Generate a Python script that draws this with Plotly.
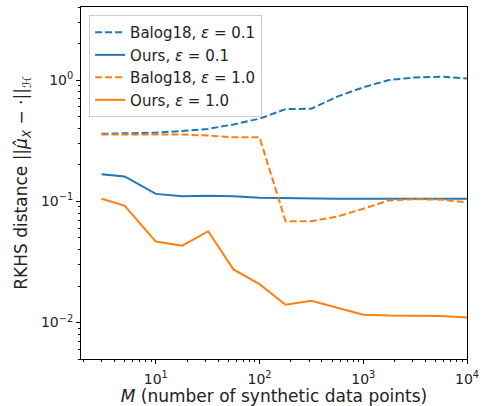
import numpy as np
import plotly.graph_objects as go

M = [3, 5, 10, 18, 32, 56, 100, 178, 316, 562, 1000, 1778, 3162, 5623, 10000]
balog_01 = [0.360, 0.362, 0.368, 0.380, 0.395, 0.430, 0.480, 0.575, 0.580, 0.730, 0.870, 1.000, 1.050, 1.065, 1.030]
ours_01 = [0.167, 0.160, 0.115, 0.110, 0.111, 0.110, 0.107, 0.106, 0.105, 0.105, 0.105, 0.105, 0.105, 0.105, 0.105]
balog_10 = [0.355, 0.355, 0.355, 0.355, 0.348, 0.337, 0.337, 0.0685, 0.0685, 0.0748, 0.0867, 0.1016, 0.104, 0.103, 0.098]
ours_10 = [0.105, 0.092, 0.0465, 0.043, 0.0566, 0.0274, 0.0207, 0.0140, 0.0151, 0.0133, 0.0116, 0.0114, 0.0114, 0.0113, 0.0110]

names = ["Balog18, <i>ε</i> = 0.1", "Ours, <i>ε</i> = 0.1", "Balog18, <i>ε</i> = 1.0", "Ours, <i>ε</i> = 1.0"]
series = [balog_01, ours_01, balog_10, ours_10]
colors = ["#1f77b4", "#1f77b4", "#ff7f0e", "#ff7f0e"]
dashes = ["7px,3px", "solid", "7px,3px", "solid"]

x_major = [10, 100, 1000, 10000]
x_major_text = ["10<sup>1</sup>", "10<sup>2</sup>", "10<sup>3</sup>", "10<sup>4</sup>"]
y_major = [0.01, 0.1, 1]
y_major_text = ["10<sup>−2</sup>", "10<sup>−1</sup>", "10<sup>0</sup>"]

x_minor = [m * 10 ** e for e in range(0, 4) for m in range(2, 10)]
y_minor = [m * 10.0 ** e for e in range(-3, 1) for m in range(2, 10)]

fig = go.Figure()
for n, s, c, d in zip(names, series, colors, dashes):
    fig.add_trace(go.Scatter(x=M, y=s, mode="lines", name=n,
                             line=dict(color=c, width=2, dash=d)))

font = dict(family="DejaVu Sans", size=14, color="#222")
fig.update_layout(
    width=485, height=406,
    margin=dict(l=81, r=18, t=7, b=47, autoexpand=False),
    paper_bgcolor="white", plot_bgcolor="white",
    font=font,
    showlegend=True,
    legend=dict(x=0.021, y=0.977, xanchor="left", yanchor="top",
                bgcolor="rgba(255,255,255,0.9)", bordercolor="#cccccc", borderwidth=1,
                font=dict(family="DejaVu Sans", size=15, color="#222")),
)
fig.update_xaxes(type="log", range=[np.log10(1.9), 4], automargin=False,
                 showgrid=False, zeroline=False,
                 showline=True, linecolor="black", linewidth=1, mirror=True,
                 ticks="outside", ticklen=4, tickcolor="black", ticklabelstandoff=3,
                 tickvals=x_major, ticktext=x_major_text,
                 minor=dict(tickvals=x_minor, ticks="outside", ticklen=2, tickcolor="black", showgrid=False),
                 title=dict(text="<i>M</i> (number of synthetic data points)", standoff=10))
fig.update_yaxes(type="log", range=[np.log10(0.005), np.log10(4.0)], automargin=False,
                 showgrid=False, zeroline=False,
                 showline=True, linecolor="black", linewidth=1, mirror=True,
                 ticks="outside", ticklen=4, tickcolor="black",
                 tickvals=y_major, ticktext=y_major_text,
                 minor=dict(tickvals=y_minor, ticks="outside", ticklen=2, tickcolor="black", showgrid=False),
                 title=dict(text="RKHS distance ||<i>μ̂</i><sub><i>X</i></sub> − ·||<sub><i>ℋ</i></sub>", standoff=8))

fig.write_html("out.html", post_script="document.body.style.margin='0';",
               config={"displayModeBar": False})
